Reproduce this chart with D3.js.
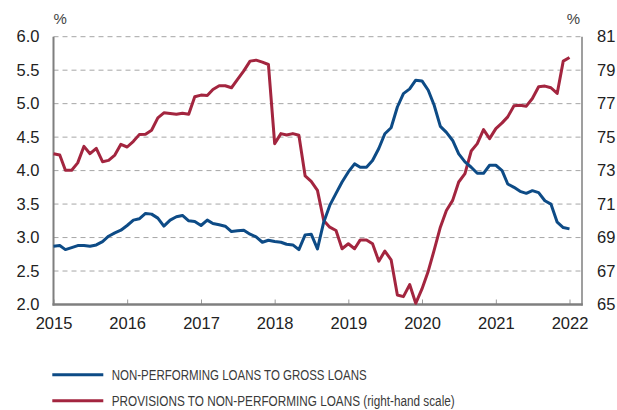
<!DOCTYPE html>
<html>
<head>
<meta charset="utf-8">
<script src="https://cdn.jsdelivr.net/npm/d3@7"></script>
<style>
    body { margin: 0; background: #fff; }
    svg { display: block; font-family: 'Liberation Sans', Arial, Helvetica, sans-serif; }
    .grid line { stroke: #a6a6a6; stroke-dasharray: 5,4; }
    .tickLabel text { fill: #222; font-size: 16.5px; }
    .legend text { fill: #3a3a3a; font-size: 14px; }
</style>
</head>
<body>
<div class="chart"></div>
<script>
// Monthly readings, Jan 2015 .. Jan 2022
let startYear = 2015,
    years = [2015, 2016, 2017, 2018, 2019, 2020, 2021, 2022],
    leftTicks = [2.0, 2.5, 3.0, 3.5, 4.0, 4.5, 5.0, 5.5, 6.0],
    rightTicks = [65, 67, 69, 71, 73, 75, 77, 79, 81],
    seriesNames = ['NON-PERFORMING LOANS TO GROSS LOANS', 'PROVISIONS TO NON-PERFORMING LOANS (right-hand scale)'];

// Non-performing loans to gross loans (left scale, %)
let nplRatio = [
    2.87, 2.88, 2.82, 2.85, 2.88, 2.88, 2.87, 2.89, 2.94, 3.02, 3.07, 3.11,
    3.18, 3.26, 3.28, 3.36, 3.35, 3.29, 3.17, 3.26, 3.31, 3.33, 3.25, 3.24,
    3.18, 3.26, 3.21, 3.19, 3.17, 3.09, 3.10, 3.11, 3.05, 3.01, 2.93, 2.96,
    2.94, 2.93, 2.90, 2.89, 2.82, 3.04, 3.05, 2.83, 3.23, 3.48, 3.66, 3.83,
    3.98, 4.10, 4.05, 4.05, 4.15, 4.33, 4.55, 4.64, 4.95, 5.15, 5.22, 5.35,
    5.34, 5.20, 4.98, 4.66, 4.57, 4.45, 4.25, 4.13, 4.05, 3.96, 3.96, 4.08,
    4.08, 4.00, 3.80, 3.75, 3.69, 3.66, 3.70, 3.67, 3.55, 3.50, 3.23, 3.15,
    3.13
];

// Provisions to non-performing loans (right scale, %)
let provisions = [
    74.01, 73.93, 73.02, 73.02, 73.46, 74.45, 74.01, 74.33, 73.53, 73.61, 73.93, 74.57,
    74.41, 74.75, 75.15, 75.17, 75.41, 76.15, 76.45, 76.41, 76.37, 76.43, 76.37, 77.41,
    77.51, 77.49, 77.85, 78.07, 78.07, 77.95, 78.45, 78.96, 79.54, 79.60, 79.48, 79.34,
    74.61, 75.21, 75.13, 75.21, 75.11, 72.68, 72.35, 71.82, 70.02, 69.62, 69.42, 68.33,
    68.63, 68.33, 68.86, 68.86, 68.63, 67.59, 68.19, 67.67, 65.57, 65.47, 66.19, 65.07,
    65.93, 66.99, 68.23, 69.62, 70.62, 71.22, 72.32, 72.82, 74.17, 74.61, 75.45, 74.91,
    75.51, 75.85, 76.21, 76.87, 76.91, 76.85, 77.31, 78.01, 78.05, 77.95, 77.61, 79.54,
    79.76
];

let width = 617,
    height = 410,
    margin = {left: 53.5, right: 582, top: 36.7, bottom: 304.5},
    blue = '#0d4b86',
    red = '#a3253f',
    axisGrey = '#7f7f7f';

let svg = d3.select('.chart')
    .append('svg')
    .attr('width', width)
    .attr('height', height);

let dates = nplRatio.map((d, i) => new Date(startYear, i, 1));

let x = d3.scaleTime()
    .domain([new Date(2015, 0, 1), new Date(2022, 0, 1)])
    .range([margin.left, 569.5]);

let yLeft = d3.scaleLinear()
    .domain([2, 6])
    .range([margin.bottom, margin.top]);

let yRight = d3.scaleLinear()
    .domain([65, 81])
    .range([margin.bottom, margin.top]);

// Dashed gridlines
svg.append('g')
    .attr('class', 'grid')
    .selectAll('line')
    .data(leftTicks.slice(1))
    .enter().append('line')
    .attr('x1', margin.left)
    .attr('x2', margin.right)
    .attr('y1', (d) => yLeft(d))
    .attr('y2', (d) => yLeft(d));

// Left axis
let leftAxis = svg.append('g')
    .attr('class', 'tickLabel')
    .attr('transform', 'translate(' + margin.left + ',0)')
    .call(d3.axisLeft(yLeft).tickValues(leftTicks).tickSize(0).tickPadding(14).tickFormat(d3.format('.1f')));
leftAxis.select('.domain').remove();

// Right axis
let rightAxis = svg.append('g')
    .attr('class', 'tickLabel')
    .attr('transform', 'translate(' + margin.right + ',0)')
    .call(d3.axisRight(yRight).tickValues(rightTicks).tickSize(0).tickPadding(15).tickFormat(d3.format('d')));
rightAxis.select('.domain').remove();

// Bottom axis with ticks pointing up
let bottomAxis = svg.append('g')
    .attr('class', 'tickLabel')
    .attr('transform', 'translate(0,' + margin.bottom + ')')
    .call(d3.axisBottom(x).tickValues(years.map((y) => new Date(y, 0, 1))).tickSizeInner(-5).tickSizeOuter(0).tickPadding(13).tickFormat(d3.timeFormat('%Y')));
bottomAxis.select('.domain').remove();
bottomAxis.selectAll('.tick line').attr('stroke', '#9a9a9a');

// Frame lines: left, right, bottom
svg.append('line')
    .attr('x1', margin.left).attr('x2', margin.left)
    .attr('y1', margin.top).attr('y2', margin.bottom + 1)
    .attr('stroke', axisGrey).attr('stroke-width', 2);
svg.append('line')
    .attr('x1', margin.right).attr('x2', margin.right)
    .attr('y1', margin.top).attr('y2', margin.bottom + 1)
    .attr('stroke', axisGrey).attr('stroke-width', 1.5);
svg.append('line')
    .attr('x1', margin.left - 1).attr('x2', margin.right + 0.75)
    .attr('y1', margin.bottom).attr('y2', margin.bottom)
    .attr('stroke', axisGrey).attr('stroke-width', 2.5);

// Unit labels
svg.append('text')
    .attr('x', margin.left).attr('y', 24)
    .attr('fill', '#444').style('font-size', '15px')
    .text('%');
svg.append('text')
    .attr('x', 580).attr('y', 24)
    .attr('text-anchor', 'end')
    .attr('fill', '#444').style('font-size', '15px')
    .text('%');

// Series lines
let lineLeft = d3.line()
    .x((d, i) => x(dates[i]))
    .y((d) => yLeft(d));
let lineRight = d3.line()
    .x((d, i) => x(dates[i]))
    .y((d) => yRight(d));

svg.append('path')
    .datum(provisions)
    .attr('d', lineRight)
    .attr('fill', 'none')
    .attr('stroke', red)
    .attr('stroke-width', 3)
    .attr('stroke-linejoin', 'round');

svg.append('path')
    .datum(nplRatio)
    .attr('d', lineLeft)
    .attr('fill', 'none')
    .attr('stroke', blue)
    .attr('stroke-width', 3)
    .attr('stroke-linejoin', 'round');

// Legend
let legend = svg.append('g').attr('class', 'legend');
let legendItems = [
    {color: blue, label: seriesNames[0], len: 255},
    {color: red, label: seriesNames[1], len: 343}
];
legendItems.forEach((d, i) => {
    let yPos = 374.7 + i * 26;
    legend.append('line')
        .attr('x1', 52.3).attr('x2', 103.3)
        .attr('y1', yPos).attr('y2', yPos)
        .attr('stroke', d.color).attr('stroke-width', 3);
    legend.append('text')
        .attr('x', 111.7).attr('y', yPos + 5.3)
        .attr('textLength', d.len)
        .attr('lengthAdjust', 'spacingAndGlyphs')
        .text(d.label);
});
</script>
</body>
</html>
